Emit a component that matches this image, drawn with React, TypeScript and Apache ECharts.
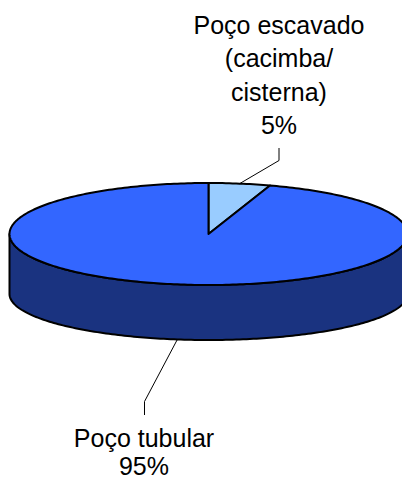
import React, { useEffect, useRef } from 'react';
import * as echarts from 'echarts';

// ---- data ----
const categories: string[] = ['Poço escavado\n(cacimba/\ncisterna)', 'Poço tubular'];
const values: number[] = [5, 95];

// ---- styles / layout ----
const topColors = ['#99CCFF', '#3366FF'];
const sideColors = ['#4D6680', '#1A3380'];
const PIE = { cx: 208.5, cy: 234, rx: 199, ry: 51, cyBottom: 294, ryBottom: 46 };
const LABEL_LAYOUT = [
  { elbow: [279, 160.5], end: [279, 148], textX: 279, textY: 142, vAlign: 'bottom', lineHeight: 33.5 },
  { elbow: [144.5, 401.5], end: [144.5, 415], textX: 144, textY: 480, vAlign: 'bottom', lineHeight: 28 },
];

export default function App() {
  const ref = useRef<HTMLDivElement>(null);
  useEffect(() => {
    document.body.style.margin = '0';
    if (!ref.current) return;
    const chart = echarts.init(ref.current, undefined, { renderer: 'svg' });
    const total = values.reduce((a, b) => a + b, 0);
    const rad = (d: number) => (d * Math.PI) / 180;
    const topPt = (d: number) => [PIE.cx + PIE.rx * Math.sin(rad(d)), PIE.cy - PIE.ry * Math.cos(rad(d))];
    const botPt = (d: number) => [PIE.cx + PIE.rx * Math.sin(rad(d)), PIE.cyBottom - PIE.ryBottom * Math.cos(rad(d))];
    const arc = (f: (d: number) => number[], a: number, b: number) => {
      const n = Math.max(2, Math.ceil(Math.abs(b - a)));
      const pts: number[][] = [];
      for (let j = 0; j <= n; j++) pts.push(f(a + ((b - a) * j) / n));
      return pts;
    };

    const option: any = {
      animation: false,
      series: [
        {
          type: 'custom',
          coordinateSystem: 'none',
          silent: true,
          data: values.map((v, i) => ({ name: categories[i], value: v })),
          renderItem: (params: any, api: any) => {
            const i = params.dataIndex;
            let start = 0;
            for (let k = 0; k < i; k++) start += values[k];
            const v = api.value(0);
            const t0 = (start / total) * 360;
            const t1 = ((start + v) / total) * 360;
            const children: any[] = [];
            const s0 = Math.max(t0, 90);
            const s1 = Math.min(t1, 270);
            if (s1 > s0) {
              const pts = arc(topPt, s0, s1).concat(arc(botPt, s1, s0));
              children.push({
                type: 'polygon',
                shape: { points: pts },
                style: { fill: sideColors[i], stroke: '#000', lineWidth: 2, lineJoin: 'round' },
                z2: 1,
              });
            }
            const topPts = [[PIE.cx, PIE.cy]].concat(arc(topPt, t0, t1));
            children.push({
              type: 'polygon',
              shape: { points: topPts },
              style: { fill: topColors[i], stroke: '#000', lineWidth: 2, lineJoin: 'round' },
              z2: 2,
            });
            const m = (t0 + t1) / 2;
            const anchor = Math.cos(rad(m)) < 0 ? botPt(m) : topPt(m);
            const L = LABEL_LAYOUT[i];
            children.push({
              type: 'polyline',
              shape: { points: [anchor, L.elbow, L.end] },
              style: { stroke: '#000', lineWidth: 1, fill: null },
              z2: 3,
            });
            const pct = Math.round((v / total) * 100) + '%';
            children.push({
              type: 'text',
              style: {
                text: categories[i] + '\n' + pct,
                x: L.textX,
                y: L.textY,
                align: 'center',
                verticalAlign: L.vAlign,
                fontSize: 25,
                lineHeight: L.lineHeight,
                fontFamily: '"Liberation Sans", Arial, sans-serif',
                fill: '#000',
              },
              z2: 4,
            });
            return { type: 'group', children };
          },
        },
      ],
    };
    chart.setOption(option);
    return () => chart.dispose();
  }, []);
  return <div ref={ref} style={{ width: 402, height: 480 }} />;
}
